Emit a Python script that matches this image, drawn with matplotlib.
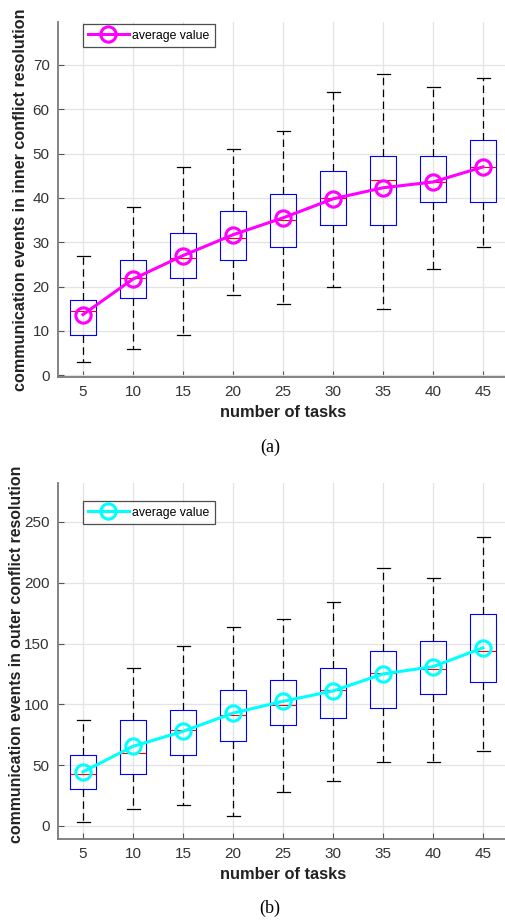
import matplotlib
matplotlib.use("Agg")
import matplotlib.pyplot as plt

plt.rcParams['font.family'] = ['Liberation Sans', 'DejaVu Sans']

tasks = [5, 10, 15, 20, 25, 30, 35, 40, 45]

# (a) inner conflict resolution
inner_low = [3, 6, 9, 18, 16, 20, 15, 24, 29]
inner_q1 = [9, 17.5, 22, 26, 29, 34, 34, 39, 39]
inner_med = [14.5, 22, 26.5, 31, 35, 40, 44, 43.5, 47]
inner_q3 = [17, 26, 32, 37, 41, 46, 49.5, 49.5, 53]
inner_high = [27, 38, 47, 51, 55, 64, 68, 65, 67]
inner_mean = [13.7, 21.7, 27.0, 31.7, 35.5, 39.8, 42.3, 43.6, 47.0]

# (b) outer conflict resolution
outer_low = [3, 14, 17, 8, 28, 37, 53, 53, 62]
outer_q1 = [30.5, 43, 58, 69.5, 83, 88.5, 97, 108.5, 118.5]
outer_med = [42.5, 60, 79, 91.5, 99.5, 111.5, 126, 129, 143.5]
outer_q3 = [58.5, 87.5, 95, 111.5, 120, 129.5, 144, 152, 174]
outer_high = [87, 130, 148, 164, 170, 184, 212, 204, 238]
outer_mean = [44.5, 65.5, 77.8, 92.8, 102.5, 111.0, 125.0, 131.0, 146.5]

xlabel = 'number of tasks'
ylabel_a = 'communication events in inner conflict resolution'
ylabel_b = 'communication events in outer conflict resolution'
legend_label = 'average value'

W, H = 505, 921
fig = plt.figure(figsize=(W / 100, H / 100), dpi=100)

def px_axes(left, top, right, bottom):
    return fig.add_axes([left / W, 1 - bottom / H, (right - left) / W, (bottom - top) / H])

def draw(ax, low, q1, med, q3, high, mean, color, ylim, yticks, leg_top):
    stats = []
    for lo, a, m, b, hi in zip(low, q1, med, q3, high):
        stats.append(dict(whislo=lo, q1=a, med=m, q3=b, whishi=hi, fliers=[]))
    ax.bxp(stats, positions=tasks, widths=2.6, showfliers=False,
           boxprops=dict(color='#0000ff', linewidth=0.8),
           medianprops=dict(color='#ff0000', linewidth=0.8),
           whiskerprops=dict(color='black', linewidth=0.9, linestyle=(0, (6, 3.5))),
           capprops=dict(color='black', linewidth=0.9),
           capwidths=1.3, manage_ticks=False, zorder=3)
    ax.plot(tasks, mean, '-o', color=color, linewidth=2.2, markersize=11,
            markerfacecolor='none', markeredgewidth=2.2, label=legend_label, zorder=4)
    ax.set_xlim(2.5, 47.5)
    ax.set_ylim(*ylim)
    ax.set_xticks(tasks)
    ax.set_yticks(yticks)
    ax.grid(True, color='#e3e3e3', linewidth=0.9, zorder=0)
    ax.set_axisbelow(True)
    for s in ['top', 'right']:
        ax.spines[s].set_visible(False)
    for s in ['left', 'bottom']:
        ax.spines[s].set_color('#7a7a7a')
        ax.spines[s].set_linewidth(1.3)
    ax.tick_params(direction='in', length=4, width=0.8, colors='#555555',
                   labelcolor='#333333', labelsize=11, pad=6)
    ax.set_xlabel(xlabel, fontsize=11.8, fontweight='bold', color='#222222', labelpad=4)
    leg = ax.legend(loc='upper left', bbox_to_anchor=(0.055, leg_top), borderaxespad=0,
                    fontsize=8.8, handlelength=3.3, frameon=True, fancybox=False,
                    borderpad=0.45, handletextpad=0.3)
    leg.get_frame().set_edgecolor('#222222')
    leg.get_frame().set_linewidth(0.9)

ax1 = px_axes(58, 22, 508, 377)
draw(ax1, inner_low, inner_q1, inner_med, inner_q3, inner_high, inner_mean,
     '#ff00ff', (-0.4, 79.7), range(0, 80, 10), 0.994)
ax1.set_ylabel(ylabel_a, fontsize=11.6, fontweight='bold', color='#222222', labelpad=3)

ax2 = px_axes(58, 483, 508, 839)
draw(ax2, outer_low, outer_q1, outer_med, outer_q3, outer_high, outer_mean,
     '#00ffff', (-10.7, 282), range(0, 300, 50), 0.949)
ax2.set_ylabel(ylabel_b, fontsize=11.4, fontweight='bold', color='#222222', labelpad=3)
ax2.yaxis.set_label_coords(-0.075, 0.52)

fig.text(270 / W, 1 - 447 / H, '(a)', ha='center', va='center',
         fontsize=13, family='Liberation Serif')
fig.text(270 / W, 1 - 908 / H, '(b)', ha='center', va='center',
         fontsize=13, family='Liberation Serif')

fig.savefig('out.png', dpi=100)
